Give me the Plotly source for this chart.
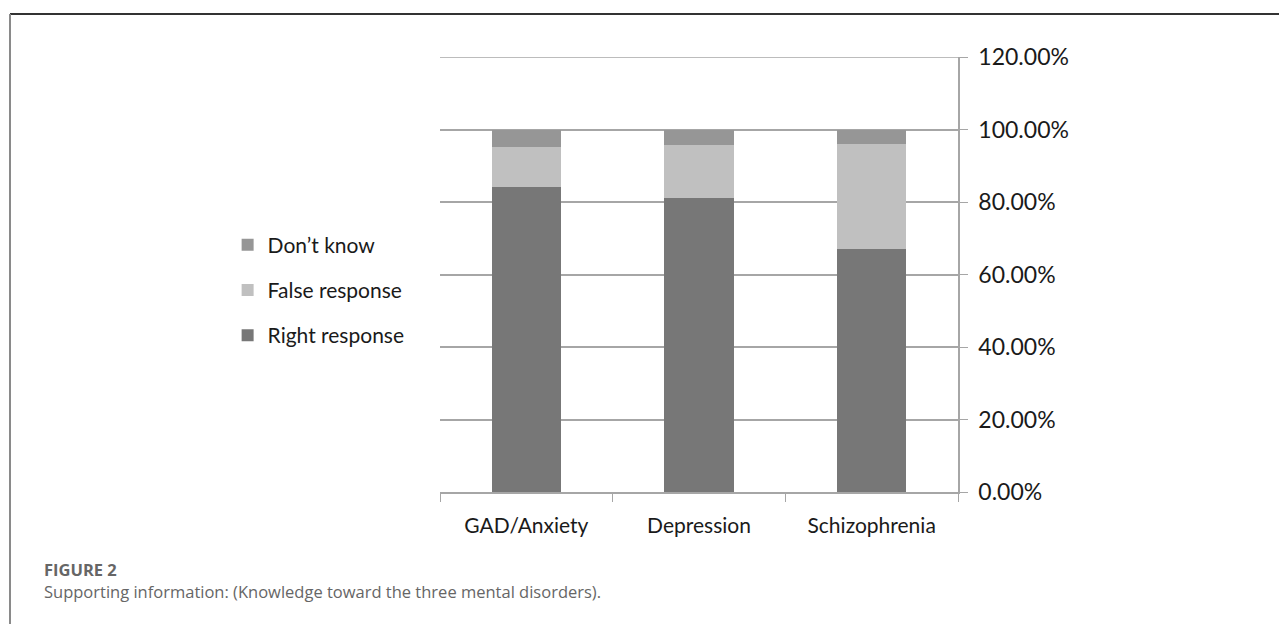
import plotly.graph_objects as go

# Knowledge of three mental disorders, share of responses per disorder
categories = ["GAD/Anxiety", "Depression", "Schizophrenia"]
right_response = [0.842, 0.812, 0.670]
false_response = [0.111, 0.145, 0.289]
dont_know = [0.047, 0.043, 0.041]
y_ticks = [0, 0.2, 0.4, 0.6, 0.8, 1.0, 1.2]

# (name, values, colour, legend rank) - stacked bottom to top
series = [
    ("Right response", right_response, "#777777", 3),
    ("False response", false_response, "#c0c0c0", 2),
    ("Don\u2019t know", dont_know, "#969696", 1),
]

fig = go.Figure()
for i, (name, vals, color, rank) in enumerate(series):
    fig.add_trace(go.Bar(
        x=categories, y=vals, name=name,
        marker=dict(color=color, line=dict(width=0)),
        width=0.4, legendgroup=f"g{i}", legendrank=rank,
    ))

axis_grey = "#a6a6a6"
text_font = "Lato, 'Open Sans', sans-serif"
caption_font = "'Open Sans', sans-serif"

fig.update_layout(
    width=1279, height=624,
    barmode="stack",
    plot_bgcolor="white", paper_bgcolor="white",
    margin=dict(l=440, r=321, t=57, b=132),
    font=dict(family=text_font, color="#1a1a1a", size=21),
    legend=dict(
        x=-0.41, xanchor="left", y=0.615, yanchor="top",
        traceorder="grouped", tracegroupgap=15,
        font=dict(size=21, family=text_font, color="#1a1a1a"),
        bgcolor="rgba(0,0,0,0)",
    ),
    xaxis=dict(
        showline=True, linecolor=axis_grey, linewidth=1.5,
        ticks="outside", tickson="boundaries", ticklen=8, tickcolor=axis_grey,
        showgrid=False, tickfont=dict(size=21), ticklabelstandoff=14,
    ),
    yaxis=dict(
        side="right", range=[0, 1.2], tickvals=y_ticks,
        tickformat=".2%",
        showline=True, linecolor=axis_grey, linewidth=1.5,
        ticks="outside", ticklen=8, tickcolor=axis_grey,
        showgrid=True, gridcolor=axis_grey, gridwidth=1.5,
        zeroline=False, tickfont=dict(size=23), ticklabelstandoff=6,
    ),
)

# Gridline at the top of the value range (plotly skips grid at the plot edge)
fig.add_shape(type="line", xref="paper", yref="y",
              x0=0, x1=1, y0=y_ticks[-1], y1=y_ticks[-1],
              line=dict(color=axis_grey, width=1.5))

# Page frame: top rule and left rule
top_y = (624 - 132 - 14) / 435
left_x = (10 - 440) / 518
fig.add_shape(type="line", xref="paper", yref="paper",
              x0=left_x, x1=(1279 - 440) / 518, y0=top_y, y1=top_y,
              line=dict(color="#333333", width=2))
fig.add_shape(type="line", xref="paper", yref="paper",
              x0=left_x, x1=left_x, y0=top_y, y1=-132 / 435,
              line=dict(color="#8a8a8a", width=2))

# Caption
fig.add_annotation(text="<b>FIGURE 2</b>", xref="paper", yref="paper",
                   x=(42 - 440) / 518, y=(492 - 569) / 435, xanchor="left", yanchor="middle",
                   showarrow=False, font=dict(size=16.5, color="#666666", family=caption_font))
fig.add_annotation(text="Supporting information: (Knowledge toward the three mental disorders).",
                   xref="paper", yref="paper",
                   x=(42 - 440) / 518, y=(492 - 591) / 435, xanchor="left", yanchor="middle",
                   showarrow=False, font=dict(size=16.5, color="#666666", family=caption_font))

fig.write_html("out.html")
